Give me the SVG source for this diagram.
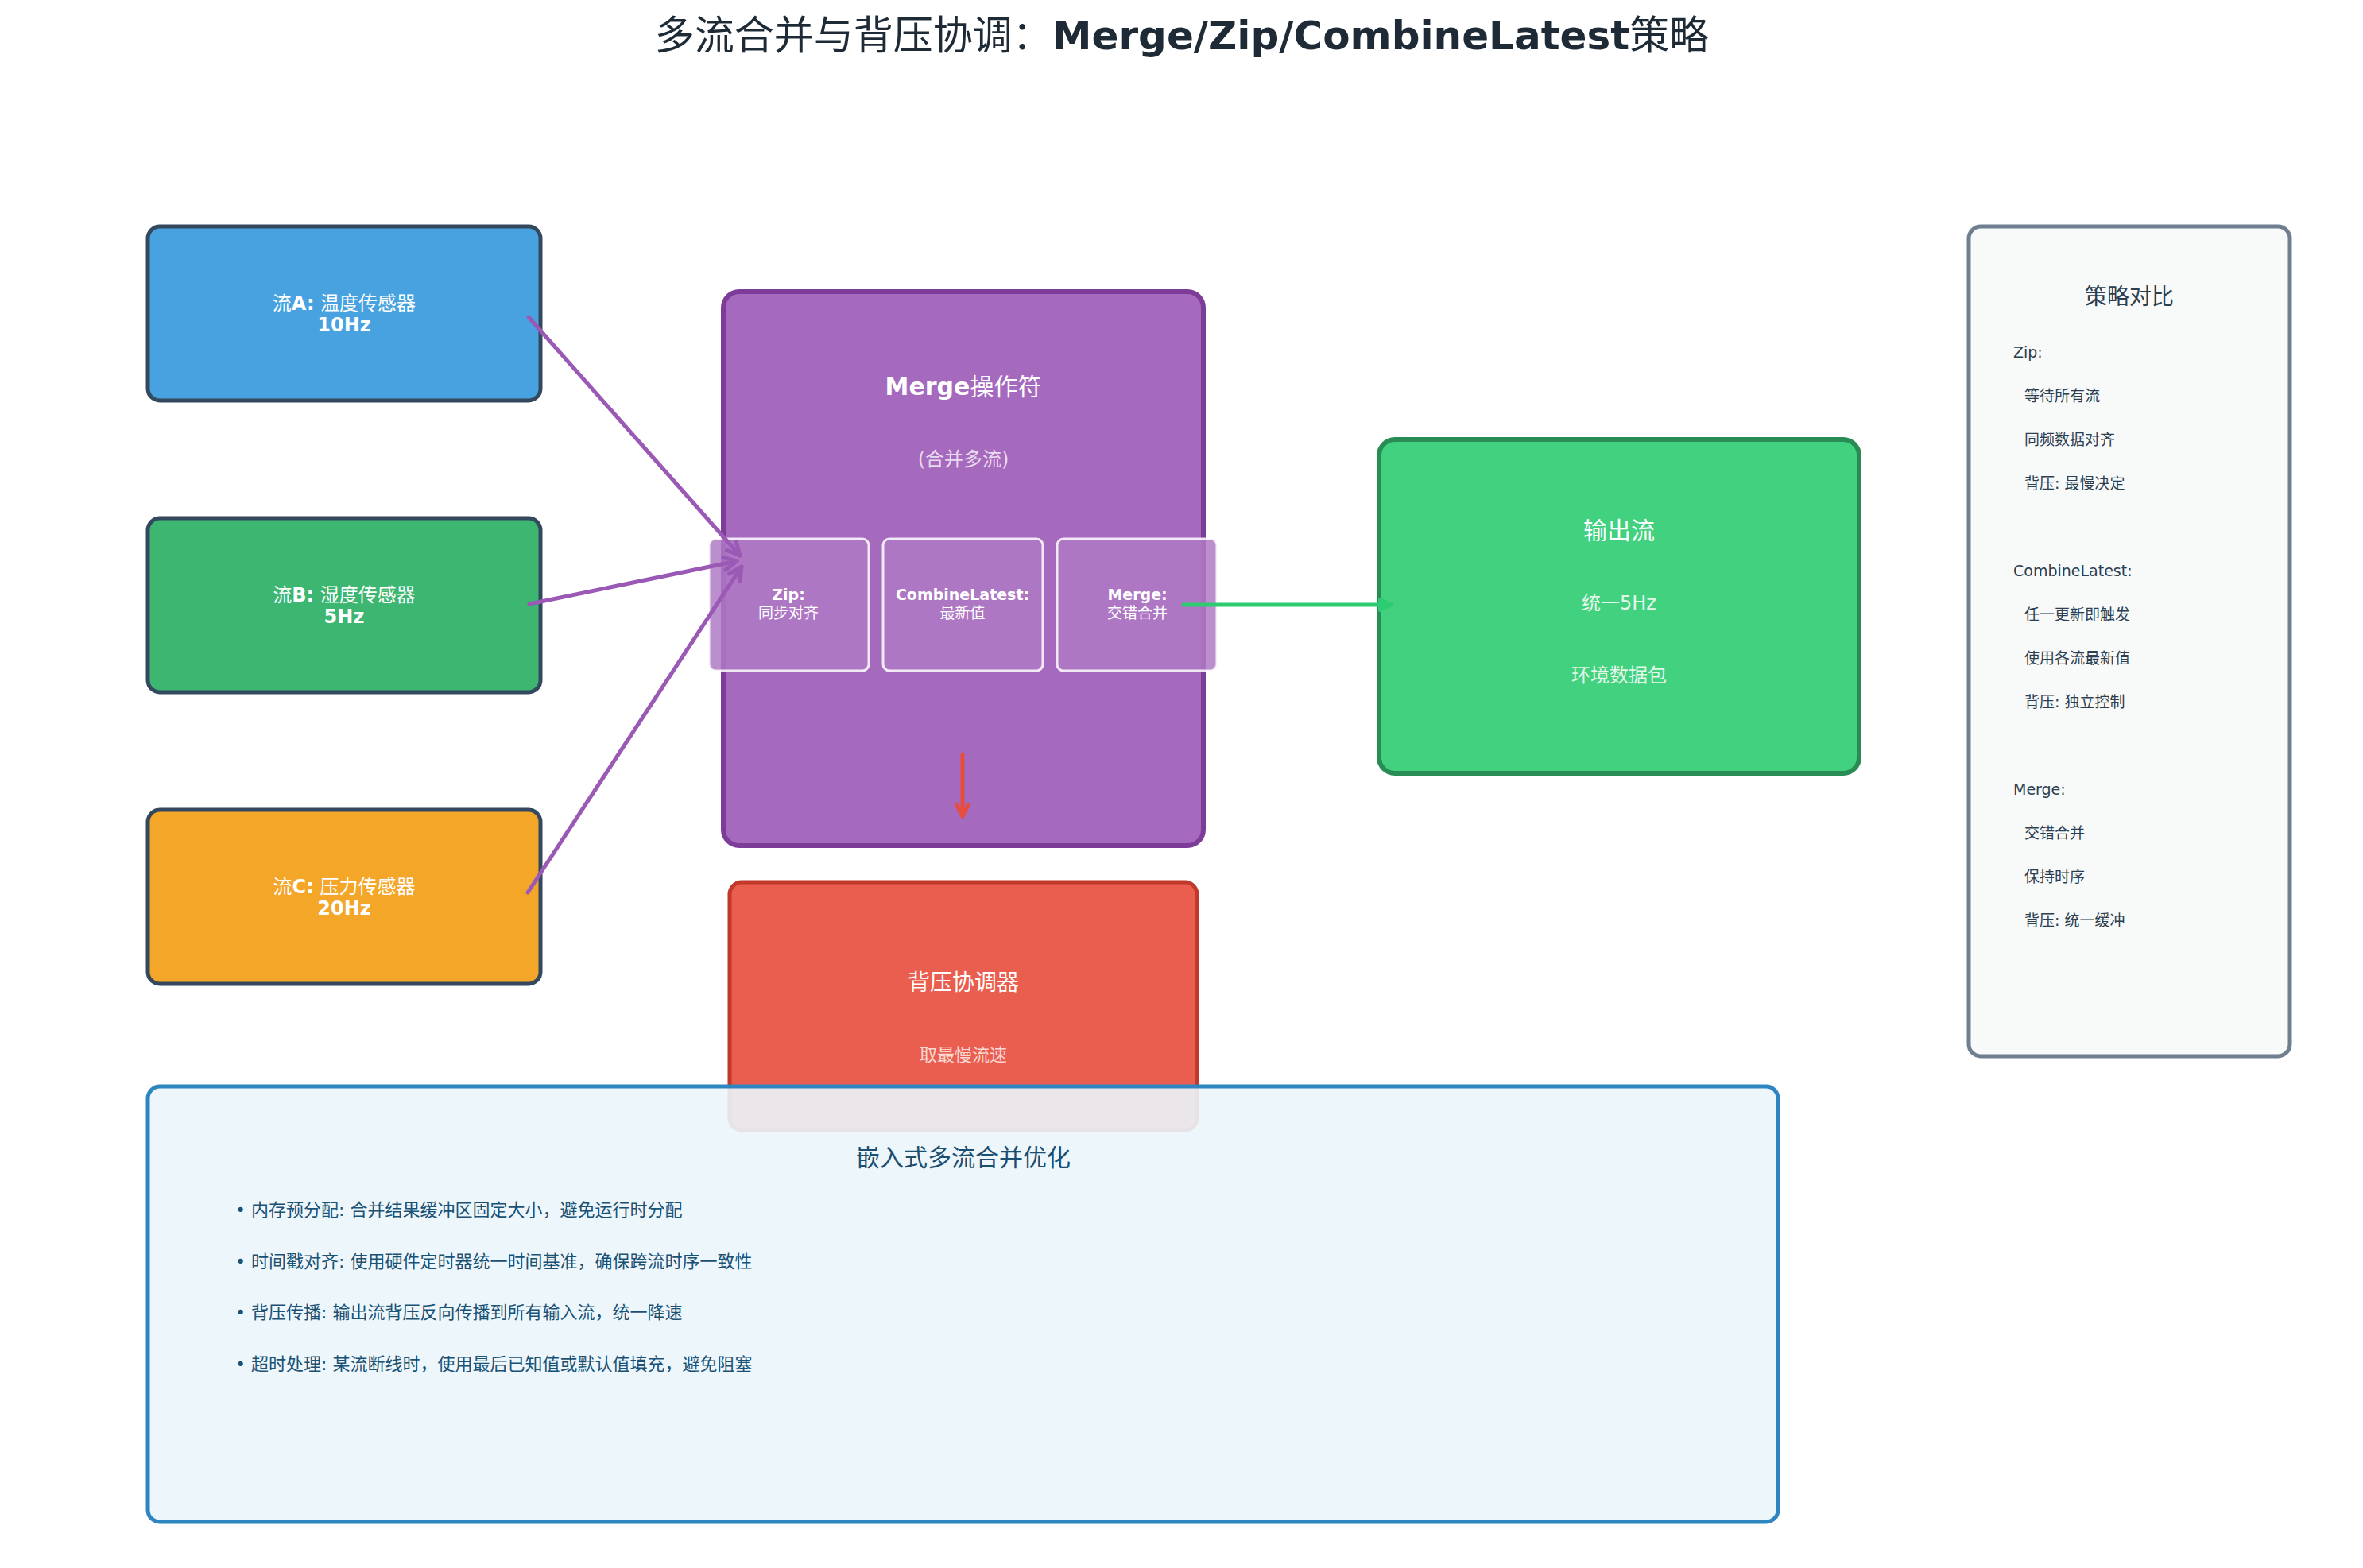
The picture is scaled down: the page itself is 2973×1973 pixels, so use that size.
<svg xmlns="http://www.w3.org/2000/svg" width="2973" height="1973" viewBox="0 0 2973 1973">
<style>
text{font-family:"DejaVu Sans","Noto Sans CJK SC",sans-serif;text-anchor:middle}
.b{font-weight:bold}
.src{stroke:#34495e;stroke-width:5}
.lbl{fill:#ffffff;font-size:24px}
.sub{fill:#af7ac5;fill-opacity:0.85;stroke:#ffffff;stroke-opacity:0.85;stroke-width:3}
.st{fill:#ffffff;font-size:19px}
.pl{fill:#2c3e50;font-size:19px;text-anchor:start}
.bl{fill:#1a5276;font-size:22px;text-anchor:start}
.conn{fill:none;stroke-width:5;stroke-linecap:round}
</style>
<defs>
<marker id="ahP" markerUnits="userSpaceOnUse" viewBox="-4 -4 28 28" markerWidth="28" markerHeight="28" refX="18" refY="10" orient="auto"><path d="M2,2 L18,10 L2,18" fill="none" stroke="#9b59b6" stroke-width="5" stroke-linecap="round" stroke-linejoin="round"/></marker>
<marker id="ahG" markerUnits="userSpaceOnUse" viewBox="-4 -4 28 28" markerWidth="28" markerHeight="28" refX="18" refY="10" orient="auto"><path d="M3,3 L18,10 L3,17 z" fill="#2ecc71" stroke="#2ecc71" stroke-width="4" stroke-linejoin="round"/></marker>
<marker id="ahR" markerUnits="userSpaceOnUse" viewBox="-4 -4 26 26" markerWidth="26" markerHeight="26" refX="16" refY="9" orient="auto"><path d="M2,2 L16,9 L2,16" fill="none" stroke="#e74c3c" stroke-width="5" stroke-linecap="round" stroke-linejoin="round"/></marker>
</defs>
<rect width="2973" height="1973" fill="#ffffff"/>
<text x="1487" y="62" style="font-size:50px" fill="#1e2b37">多流合并与背压协调：<tspan class="b">Merge/Zip/CombineLatest</tspan>策略</text>

<g id="streamA">
<rect x="186" y="285" width="494" height="219" rx="15" fill="#3498db" fill-opacity="0.9" class="src"/>
<text x="433" y="390" class="lbl">流<tspan class="b">A:</tspan> 温度传感器</text>
<text x="433" y="417" class="lbl b">10Hz</text>
</g>
<g id="streamB">
<rect x="186" y="652" width="494" height="219" rx="15" fill="#27ae60" fill-opacity="0.9" class="src"/>
<text x="433" y="757" class="lbl">流<tspan class="b">B:</tspan> 湿度传感器</text>
<text x="433" y="784" class="lbl b">5Hz</text>
</g>
<g id="streamC">
<rect x="186" y="1019" width="494" height="219" rx="15" fill="#f39c12" fill-opacity="0.9" class="src"/>
<text x="433" y="1124" class="lbl">流<tspan class="b">C:</tspan> 压力传感器</text>
<text x="433" y="1151" class="lbl b">20Hz</text>
</g>

<g id="merge">
<rect x="910" y="367" width="604" height="697" rx="20" fill="#9b59b6" fill-opacity="0.9" stroke="#7d3c98" stroke-width="6"/>
<text x="1212" y="497" fill="#ffffff" style="font-size:30px"><tspan class="b">Merge</tspan>操作符</text>
<text x="1212" y="586" fill="#e8daef" style="font-size:24px">(合并多流)</text>
<g id="zip">
<rect x="892" y="678" width="201" height="166" rx="8" class="sub"/>
<text x="992" y="755" class="st b">Zip:</text>
<text x="992" y="778" class="st">同步对齐</text>
</g>
<g id="combineLatest">
<rect x="1111" y="678" width="201" height="166" rx="8" class="sub"/>
<text x="1211" y="755" class="st b">CombineLatest:</text>
<text x="1211" y="778" class="st">最新值</text>
</g>
<g id="mergeOp">
<rect x="1330" y="678" width="201" height="166" rx="8" class="sub"/>
<text x="1431" y="755" class="st b">Merge:</text>
<text x="1431" y="778" class="st">交错合并</text>
</g>
</g>

<g id="output">
<rect x="1735" y="553" width="604" height="420" rx="20" fill="#2ecc71" fill-opacity="0.9" stroke="#2a8c55" stroke-width="6"/>
<text x="2037" y="678" fill="#ffffff" style="font-size:30px">输出流</text>
<text x="2037" y="767" fill="#e3f7ea" style="font-size:24px">统一5Hz</text>
<text x="2037" y="858" fill="#e3f7ea" style="font-size:24px">环境数据包</text>
</g>

<g id="backpressure">
<rect x="918" y="1110" width="588" height="312" rx="15" fill="#e74c3c" fill-opacity="0.9" stroke="#c0392b" stroke-width="5"/>
<text x="1212" y="1246" fill="#ffffff" style="font-size:28px">背压协调器</text>
<text x="1212" y="1335" fill="#fad7d2" style="font-size:22px">取最慢流速</text>
</g>

<g id="compare">
<rect x="2477" y="285" width="404" height="1044" rx="15" fill="#f8f9f9" stroke="#6f7f90" stroke-width="5"/>
<text x="2679" y="383" fill="#2c3e50" style="font-size:28px">策略对比</text>
<text x="2533" y="450" class="pl">Zip:</text>
<text x="2547" y="505" class="pl">等待所有流</text>
<text x="2547" y="560" class="pl">同频数据对齐</text>
<text x="2547" y="615" class="pl">背压: 最慢决定</text>
<text x="2533" y="725" class="pl">CombineLatest:</text>
<text x="2547" y="780" class="pl">任一更新即触发</text>
<text x="2547" y="835" class="pl">使用各流最新值</text>
<text x="2547" y="890" class="pl">背压: 独立控制</text>
<text x="2533" y="1000" class="pl">Merge:</text>
<text x="2547" y="1055" class="pl">交错合并</text>
<text x="2547" y="1110" class="pl">保持时序</text>
<text x="2547" y="1165" class="pl">背压: 统一缓冲</text>
</g>

<g id="optimize">
<rect x="186" y="1367" width="2051" height="548" rx="15" fill="#ebf5fb" fill-opacity="0.9" stroke="#2e86c1" stroke-width="5"/>
<text x="1212" y="1467" fill="#1b4f72" style="font-size:30px">嵌入式多流合并优化</text>
<text x="296" y="1530" class="bl">• 内存预分配: 合并结果缓冲区固定大小，避免运行时分配</text>
<text x="296" y="1595" class="bl">• 时间戳对齐: 使用硬件定时器统一时间基准，确保跨流时序一致性</text>
<text x="296" y="1659" class="bl">• 背压传播: 输出流背压反向传播到所有输入流，统一降速</text>
<text x="296" y="1724" class="bl">• 超时处理: 某流断线时，使用最后已知值或默认值填充，避免阻塞</text>
</g>

<g id="connectors">
<line x1="665" y1="399" x2="931" y2="699" class="conn" stroke="#9b59b6" marker-end="url(#ahP)"/>
<line x1="666" y1="760" x2="927" y2="706" class="conn" stroke="#9b59b6" marker-end="url(#ahP)"/>
<line x1="664" y1="1123" x2="933" y2="713" class="conn" stroke="#9b59b6" marker-end="url(#ahP)"/>
<line x1="1489" y1="761" x2="1751" y2="761" class="conn" stroke="#2ecc71" stroke-width="6" marker-end="url(#ahG)"/>
<line x1="1211" y1="949" x2="1211" y2="1027" class="conn" stroke="#e74c3c" marker-end="url(#ahR)"/>
</g>
</svg>
